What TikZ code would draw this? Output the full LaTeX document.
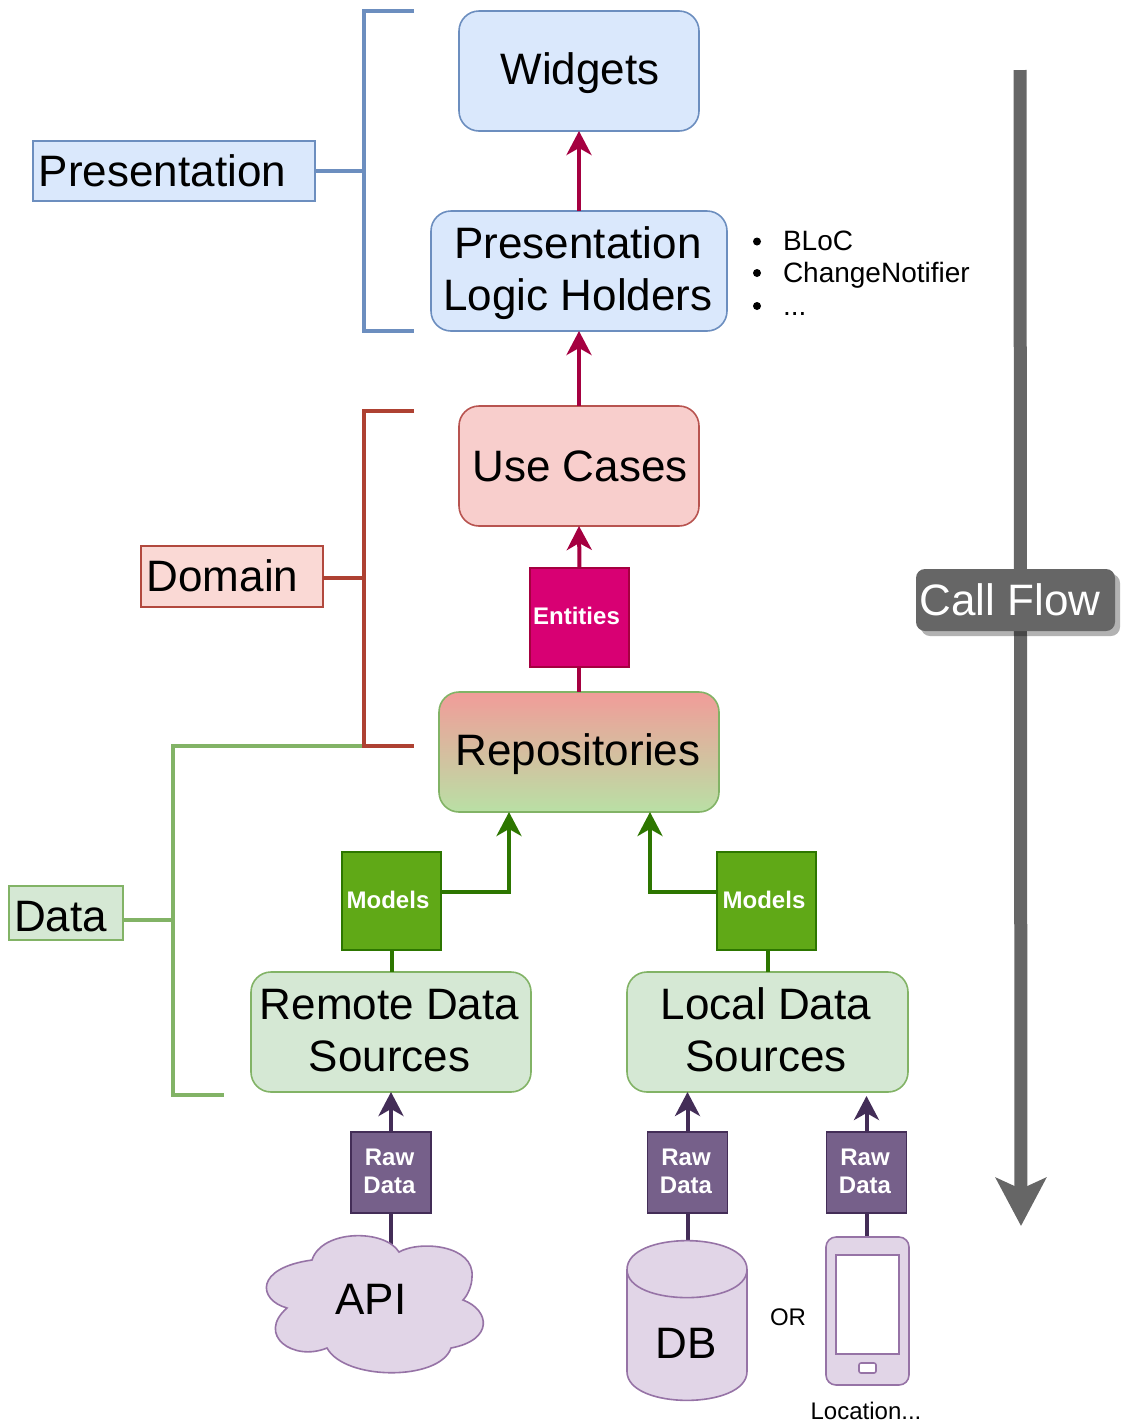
\documentclass[tikz,border=0pt]{standalone}
\usepackage{fontspec}
\setmainfont{Liberation Sans}
\usetikzlibrary{arrows.meta,shadows}
\definecolor{bluef}{HTML}{DAE8FC}\definecolor{blued}{HTML}{6C8EBF}
\definecolor{redf}{HTML}{F8CECC}\definecolor{redd}{HTML}{B85450}
\definecolor{domf}{HTML}{FAD9D5}\definecolor{domd}{HTML}{AE4132}
\definecolor{greenf}{HTML}{D5E8D4}\definecolor{greend}{HTML}{82B366}
\definecolor{purf}{HTML}{E1D5E7}\definecolor{purd}{HTML}{9673A6}
\definecolor{entf}{HTML}{D80073}\definecolor{entd}{HTML}{A50040}
\definecolor{modf}{HTML}{60A917}\definecolor{modd}{HTML}{2D7600}
\definecolor{rawf}{HTML}{76608A}\definecolor{rawd}{HTML}{432D57}
\definecolor{flow}{HTML}{666666}
\definecolor{repotop}{HTML}{F19C99}\definecolor{repobot}{HTML}{B9E0A5}
% #1 = raise of the baseline from the node centre, #2 = horizontal offset, #3 = text
\newcommand{\placed}[3]{\raisebox{#1}[0pt][0pt]{\makebox[0pt]{\hspace*{#2}#3}}}
\newcommand{\twolines}[2]{\begin{tabular}{@{}c@{}}#1\\#2\end{tabular}}
\tikzset{
 every node/.style={inner sep=0pt,outer sep=0pt,align=center,font=\fontsize{44}{52}\selectfont},
 layer/.style={rounded corners=20pt,line width=1.6pt},
 bluebox/.style={layer,draw=blued,fill=bluef},
 redbox/.style={layer,draw=redd,fill=redf},
 greenbox/.style={layer,draw=greend,fill=greenf},
 tag/.style={line width=1.6pt,text=white,font=\bfseries\fontsize{24}{28}\selectfont},
 enttag/.style={tag,draw=entd,fill=entf,minimum width=99pt,minimum height=99pt},
 modtag/.style={tag,draw=modd,fill=modf,minimum width=99pt,minimum height=98pt},
 rawtag/.style={tag,draw=rawd,fill=rawf,minimum width=80pt,minimum height=81pt},
 sidelabel/.style={line width=1.6pt},
 bracket/.style={line width=3.4pt,line cap=butt,line join=miter},
 flowred/.style={line width=4pt,draw=entd,-{Stealth[length=24pt,width=25pt,inset=7pt]}},
 flowgreen/.style={line width=4pt,draw=modd,-{Stealth[length=24pt,width=25pt,inset=7pt]}},
 flowpurple/.style={line width=4pt,draw=rawd,-{Stealth[length=24pt,width=25pt,inset=7pt]}},
 purpleshape/.style={line width=1.6pt,draw=purd,fill=purf},
 small/.style={font=\fontsize{24}{30}\selectfont},
 listitem/.style={anchor=west,align=left,font=\fontsize{28}{32}\selectfont},
}
\begin{document}
\begin{tikzpicture}[x=1pt,y=-1pt]
\useasboundingbox (0,0) rectangle (1121,1425);
% call flow
\coordinate (flowstart) at (1020,70);
\coordinate (flowend) at (1021,1226);
\draw[line width=13pt,draw=flow,-{Stealth[length=48pt,width=50pt,inset=11pt]}] (flowstart) -- (flowend);
\node[fill=flow,text=white,rounded corners=9pt,minimum width=199pt,minimum height=62pt,
 drop shadow={shadow xshift=5pt,shadow yshift=-5pt,fill=black,opacity=.3}] (callflow) at (1015.5,600) {\placed{-15pt}{-11pt}{Call Flow}};
% brackets
\draw[bracket,draw=blued] (414,11) -- (364,11) -- (364,331) -- (414,331);
\node[sidelabel,draw=blued,fill=bluef,minimum width=282pt,minimum height=60pt] (lpres) at (174,171) {\placed{-15pt}{-23pt}{Presentation}};
\coordinate (bpres) at (364,171);
\draw[bracket,draw=blued] (lpres.east) -- (bpres);
\draw[bracket,draw=greend] (364,746) -- (173,746) -- (173,1095) -- (224,1095);
\draw[bracket,draw=domd] (414,411) -- (364,411) -- (364,746) -- (414,746);
\node[sidelabel,draw=domd!60!redd,fill=domf,minimum width=182pt,minimum height=61pt] (ldom) at (232,576.5) {\placed{-15pt}{-19pt}{Domain}};
\coordinate (bdom) at (364,578);
\draw[bracket,draw=domd] (ldom.east |- bdom) -- (bdom);
\node[sidelabel,draw=greend,fill=greenf,minimum width=114pt,minimum height=54pt] (ldata) at (66,913) {\placed{-18pt}{-11pt}{Data}};
\coordinate (bdata) at (173,920);
\draw[bracket,draw=greend] (ldata.east |- bdata) -- (bdata);
% boxes
\node[bluebox,minimum width=240pt,minimum height=120pt] (widgets) at (579,71) {\placed{-13.4pt}{2pt}{Widgets}};
\node[bluebox,minimum width=296pt,minimum height=120pt] (plh) at (579,271) {\placed{-9pt}{-2pt}{\twolines{Presentation}{Logic Holders}}};
\node[redbox,minimum width=240pt,minimum height=120pt] (usecases) at (579,466) {\placed{-15pt}{2pt}{Use Cases}};
\node[enttag] (entities) at (579.5,617.5) {\placed{-6.5pt}{-6pt}{Entities}};
\node[layer,draw=greend,top color=repotop,bottom color=repobot,minimum width=280pt,minimum height=120pt] (repo) at (579,752) {\placed{-13.4pt}{-2pt}{Repositories}};
\node[modtag] (ml) at (391.5,901) {\placed{-7.6pt}{-7pt}{Models}};
\node[modtag] (mr) at (766.5,901) {\placed{-7.6pt}{-5pt}{Models}};
\node[greenbox,minimum width=280pt,minimum height=120pt] (remote) at (391,1032) {\placed{-9.3pt}{-3pt}{\twolines{Remote Data}{Sources}}};
\node[greenbox,minimum width=281pt,minimum height=120pt] (local) at (767.5,1032) {\placed{-9.3pt}{-3pt}{\twolines{Local Data}{Sources}}};
\node[rawtag] (raw1) at (391,1172.5) {\placed{-8pt}{-3pt}{\twolines{Raw}{Data}}};
\node[rawtag] (raw2) at (687.5,1172.5) {\placed{-8pt}{-3pt}{\twolines{Raw}{Data}}};
\node[rawtag] (raw3) at (866.5,1172.5) {\placed{-8pt}{-3pt}{\twolines{Raw}{Data}}};
% bullet list
\node[listitem] (holders) at (783,241) {BLoC};
\node[listitem] (holders2) at (783,275) {ChangeNotifier};
\node[listitem] (holders3) at (783,313.5) {...};
\fill (757,241.5) circle (4pt) (757,273) circle (4pt) (757,306) circle (4pt);
% connectors under sources
\coordinate (apitop) at (391,1245);
\coordinate (dbtop) at (687.5,1241);
\coordinate (phonetop) at (866.5,1237);
\draw[line width=4pt,draw=rawd] (raw1.south) -- (apitop);
\draw[line width=4pt,draw=rawd] (raw2.south) -- (dbtop);
\draw[line width=4pt,draw=rawd] (raw3.south) -- (phonetop);
% cloud
\draw[purpleshape] (312,1260) .. controls (322,1229) and (385,1229) .. (399,1252)
 .. controls (420,1240) and (475,1245) .. (472,1277)
 .. controls (472,1285) and (468,1295) .. (463,1300)
 .. controls (490,1310) and (494,1340) .. (451,1348)
 .. controls (440,1381) and (345,1381) .. (327,1348)
 .. controls (293,1362) and (256,1335) .. (287,1308)
 .. controls (258,1300) and (254,1268) .. (312,1260) -- cycle;
\node[text depth=0pt] (api) at (371,1299) {API};
% cylinder
\draw[purpleshape] (627,1269.5) .. controls (627,1231) and (747,1231) .. (747,1269.5)
 -- (747,1371.5) .. controls (747,1410) and (627,1410) .. (627,1371.5) -- cycle;
\draw[line width=1.6pt,draw=purd] (627,1269.5) .. controls (627,1307) and (747,1307) .. (747,1269.5);
\node[text depth=0pt] (db) at (686,1343) {DB};
% phone
\draw[purpleshape,rounded corners=10pt] (826,1237) rectangle (909,1385);
\draw[line width=1.6pt,draw=purd,fill=white] (836,1255) rectangle (899,1354);
\draw[line width=1.6pt,draw=purd,fill=white,rounded corners=2pt] (859,1363) rectangle (876,1373);
\node[small] (orlabel) at (788,1317) {OR};
\node[small] (location) at (866,1411) {Location...};
% arrows
\draw[flowred] (plh.north) -- (widgets.south);
\draw[flowred] (usecases.north) -- (plh.south);
\draw[flowred] (entities.north) -- (usecases.south);
\draw[line width=4pt,draw=entd] (repo.north) -- (repo.north |- entities.south);
\draw[flowgreen] ([yshift=9pt]ml.east) -| ([xshift=-70pt]repo.south);
\draw[flowgreen] ([yshift=9pt]mr.west) -| ([xshift=71pt]repo.south);
\draw[line width=4pt,draw=modd] (ml.south) -- (ml.south |- remote.north);
\draw[line width=4pt,draw=modd] (local.north) -- (local.north |- mr.south);
\draw[flowpurple] (raw1.north) -- (remote.south);
\draw[flowpurple] (raw2.north) -- (raw2.north |- local.south);
\draw[flowpurple] (raw3.north) -- ([yshift=-4pt]raw3.north |- local.south);
\end{tikzpicture}
\end{document}
